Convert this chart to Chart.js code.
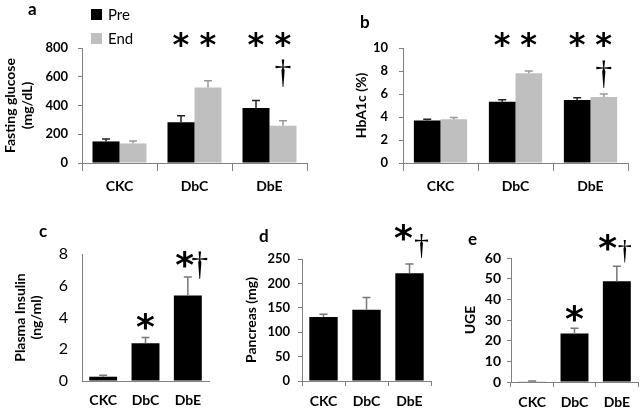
<!DOCTYPE html>
<html>
<head>
<meta charset="utf-8">
<script src="https://cdn.jsdelivr.net/npm/chart.js@4.4.0/dist/chart.umd.min.js"></script>
<style>
  html, body { margin: 0; padding: 0; background: #fff; }
  #fig { position: relative; width: 640px; height: 410px; overflow: hidden; }
  #fig canvas { position: absolute; }
</style>
</head>
<body>
<div id="fig">
  <canvas id="chartA" width="320" height="200" style="left:0px;top:0px"></canvas>
  <canvas id="chartB" width="320" height="200" style="left:320px;top:0px"></canvas>
  <canvas id="chartC" width="214" height="210" style="left:0px;top:200px"></canvas>
  <canvas id="chartD" width="222" height="210" style="left:214px;top:200px"></canvas>
  <canvas id="chartE" width="204" height="210" style="left:436px;top:200px"></canvas>
</div>
<script>
// groups and series
const groups = ['CKC', 'DbC', 'DbE'];
const seriesNames = ['Pre', 'End'];

// a: fasting glucose (mg/dL), mean and upper error
const glucosePre = [150, 283, 383];
const glucosePreErr = [17, 46, 52];
const glucoseEnd = [136, 526, 259];
const glucoseEndErr = [17, 46, 35];
const glucoseTicks = [0, 200, 400, 600, 800];

// b: HbA1c (%)
const hba1cPre = [3.7, 5.33, 5.48];
const hba1cPreErr = [0.1, 0.17, 0.2];
const hba1cEnd = [3.8, 7.8, 5.74];
const hba1cEndErr = [0.15, 0.2, 0.26];
const hba1cTicks = [0, 2, 4, 6, 8, 10];

// c: plasma insulin (ng/ml)
const insulin = [0.27, 2.38, 5.39];
const insulinErr = [0.1, 0.36, 1.16];
const insulinTicks = [0, 2, 4, 6, 8];

// d: pancreas weight (mg)
const pancreas = [131, 146, 221];
const pancreasErr = [6, 25, 19];
const pancreasTicks = [0, 50, 100, 150, 200, 250];

// e: UGE
const uge = [0.3, 23.5, 48.8];
const ugeErr = [0.2, 2.5, 7.2];
const ugeTicks = [0, 10, 20, 30, 40, 50, 60];

const FONT = 'Lato';
const axisGray = '#808080';
const barBlack = '#000000';
const barGray = '#bfbfbf';

function drawGlyph(ctx, text, font, cx, cy) {
    ctx.font = font;
    ctx.textAlign = 'left';
    ctx.textBaseline = 'alphabetic';
    const m = ctx.measureText(text);
    const x = cx - (m.actualBoundingBoxRight - m.actualBoundingBoxLeft) / 2;
    const y = cy + (m.actualBoundingBoxAscent - m.actualBoundingBoxDescent) / 2;
    ctx.fillText(text, x, y);
}

const extras = {
    id: 'extras',
    afterDatasetsDraw(chart) {
        const ctx = chart.ctx;
        const yScale = chart.scales.y;
        chart.data.datasets.forEach((ds, i) => {
            chart.getDatasetMeta(i).data.forEach((bar, j) => {
                const top = yScale.getPixelForValue(ds.data[j] + ds.err[j]);
                ctx.save();
                ctx.strokeStyle = ds.errColor;
                ctx.lineWidth = 1.5;
                ctx.beginPath();
                ctx.moveTo(bar.x, bar.y);
                ctx.lineTo(bar.x, top);
                ctx.moveTo(bar.x - 4, top);
                ctx.lineTo(bar.x + 4, top);
                ctx.stroke();
                ctx.restore();
            });
        });
    },
    afterDraw(chart, args, opts) {
        const ctx = chart.ctx;
        const yScale = chart.scales.y;
        ctx.save();
        ctx.fillStyle = '#000';
        (opts.marks || []).forEach(mk => {
            const bar = chart.getDatasetMeta(mk.ds).data[mk.cat];
            const font = mk.text === '*' ? opts.starFont : opts.daggerFont;
            drawGlyph(ctx, mk.text, font, bar.x + (mk.dx || 0), yScale.getPixelForValue(mk.value));
        });
        if (opts.label) {
            ctx.font = 'bold 17px ' + FONT;
            ctx.textAlign = 'left';
            ctx.textBaseline = 'alphabetic';
            ctx.fillText(opts.label.text, opts.label.x, opts.label.y);
        }
        if (opts.legend) {
            // two stacked legend rows above the plot
            chart.data.datasets.forEach((ds, i) => {
                const cy = opts.legend.y + i * opts.legend.gap;
                ctx.fillStyle = ds.backgroundColor;
                ctx.fillRect(opts.legend.x, cy - 5, 11, 11);
                ctx.fillStyle = '#000';
                ctx.font = '15px ' + FONT;
                ctx.textBaseline = 'middle';
                ctx.fillText(ds.label, opts.legend.x + 17, cy + 1);
            });
        }
        ctx.restore();
    }
};

function makePanel(id, p) {
    const ctx = document.getElementById(id).getContext('2d');
    return new Chart(ctx, {
        type: 'bar',
        data: { labels: groups, datasets: p.datasets },
        options: {
            responsive: false,
            animation: false,
            layout: { padding: { top: p.padTop, right: p.padRight, left: 0, bottom: 0 } },
            datasets: { bar: { categoryPercentage: p.catPct, barPercentage: 1 } },
            plugins: {
                legend: { display: false },
                tooltip: { enabled: false },
                extras: p.extras
            },
            scales: {
                x: {
                    grid: { drawOnChartArea: false, drawTicks: p.xTickLen > 0, tickLength: p.xTickLen, color: axisGray, offset: true },
                    border: { display: true, color: axisGray, width: 1 },
                    ticks: { color: '#000', font: { family: FONT, size: 14, weight: 'bold' }, padding: p.xPad, maxRotation: 0 },
                    afterFit: s => { s.height = p.xHeight; }
                },
                y: {
                    min: 0,
                    max: p.ticks[p.ticks.length - 1],
                    afterBuildTicks: s => { s.ticks = p.ticks.map(v => ({ value: v })); },
                    grid: { drawOnChartArea: false, drawTicks: p.yTickLen > 0, tickLength: p.yTickLen, color: axisGray },
                    border: { display: true, color: axisGray, width: 1 },
                    ticks: { color: '#000', font: p.yTickFont, padding: p.yPad },
                    title: {
                        display: true, text: p.title, color: '#000',
                        font: { family: FONT, size: 14, weight: 'bold', lineHeight: p.titleLH || 1.2 },
                        padding: { top: p.titlePad, bottom: 0 }
                    },
                    afterFit: s => { s.width = p.yWidth; }
                }
            }
        },
        plugins: [extras]
    });
}

const boldTick = { family: FONT, size: 13, weight: 'bold' };
const starBig = 'bold 32px "DejaVu Sans"';
const daggerBig = '34px "Liberation Serif"';

makePanel('chartA', {
    datasets: [
        { label: seriesNames[0], data: glucosePre, err: glucosePreErr, backgroundColor: barBlack, errColor: '#222' },
        { label: seriesNames[1], data: glucoseEnd, err: glucoseEndErr, backgroundColor: barGray, errColor: '#999' }
    ],
    ticks: glucoseTicks, padTop: 48, padRight: 13, yWidth: 82, xHeight: 37, catPct: 0.72,
    xTickLen: 8, xPad: 7, yTickLen: 4, yPad: 10, yTickFont: boldTick,
    title: ['Fasting glucose', '(mg/dL)'], titleLH: 1.25, titlePad: 1.25,
    extras: {
        starFont: starBig, daggerFont: daggerBig,
        label: { text: 'a', x: 28, y: 15 },
        legend: { x: 91, y: 14, gap: 24 },
        marks: [
            { text: '*', cat: 1, ds: 0, value: 856 },
            { text: '*', cat: 1, ds: 1, value: 856 },
            { text: '*', cat: 2, ds: 0, value: 856 },
            { text: '*', cat: 2, ds: 1, value: 856 },
            { text: '†', cat: 2, ds: 1, value: 628 }
        ]
    }
});

makePanel('chartB', {
    datasets: [
        { label: seriesNames[0], data: hba1cPre, err: hba1cPreErr, backgroundColor: barBlack, errColor: '#222' },
        { label: seriesNames[1], data: hba1cEnd, err: hba1cEndErr, backgroundColor: barGray, errColor: '#999' }
    ],
    ticks: hba1cTicks, padTop: 48, padRight: 12, yWidth: 83, xHeight: 37, catPct: 0.71,
    xTickLen: 8, xPad: 7, yTickLen: 4, yPad: 11, yTickFont: boldTick,
    title: 'HbA1c (%)', titlePad: 33.3,
    extras: {
        starFont: starBig, daggerFont: daggerBig,
        label: { text: 'b', x: 40, y: 28 },
        marks: [
            { text: '*', cat: 1, ds: 0, value: 10.7 },
            { text: '*', cat: 1, ds: 1, value: 10.7 },
            { text: '*', cat: 2, ds: 0, value: 10.7 },
            { text: '*', cat: 2, ds: 1, value: 10.7 },
            { text: '†', cat: 2, ds: 1, value: 7.77 }
        ]
    }
});

makePanel('chartC', {
    datasets: [
        { label: 'Insulin', data: insulin, err: insulinErr, backgroundColor: barBlack, errColor: '#777' }
    ],
    ticks: insulinTicks, padTop: 54, padRight: 5, yWidth: 82, xHeight: 29, catPct: 0.66,
    xTickLen: 0, xPad: 11, yTickLen: 0, yPad: 14, yTickFont: { family: FONT, size: 16 },
    title: ['Plasma Insulin', '(ng/ml)'], titleLH: 1.18, titlePad: 11.75,
    extras: {
        starFont: 'bold 36px "DejaVu Sans"', daggerFont: daggerBig,
        label: { text: 'c', x: 39, y: 37 },
        marks: [
            { text: '*', cat: 1, ds: 0, value: 3.73 },
            { text: '*', cat: 2, ds: 0, value: 7.64, dx: -3 },
            { text: '†', cat: 2, ds: 0, value: 7.3, dx: 12 }
        ]
    }
});

makePanel('chartD', {
    datasets: [
        { label: 'Pancreas', data: pancreas, err: pancreasErr, backgroundColor: barBlack, errColor: '#777' }
    ],
    ticks: pancreasTicks, padTop: 59, padRight: 5, yWidth: 88, xHeight: 29, catPct: 0.66,
    xTickLen: 5, xPad: 7, yTickLen: 4, yPad: 8, yTickFont: boldTick,
    title: 'Pancreas (mg)', titlePad: 29.3,
    extras: {
        starFont: 'bold 36px "DejaVu Sans"', daggerFont: '30px "Liberation Serif"',
        label: { text: 'd', x: 45, y: 42 },
        marks: [
            { text: '*', cat: 2, ds: 0, value: 304, dx: -6 },
            { text: '†', cat: 2, ds: 0, value: 276, dx: 12 }
        ]
    }
});

makePanel('chartE', {
    datasets: [
        { label: 'UGE', data: uge, err: ugeErr, backgroundColor: barBlack, errColor: '#777' }
    ],
    ticks: ugeTicks, padTop: 58, padRight: 2, yWidth: 75, xHeight: 28, catPct: 0.66,
    xTickLen: 5, xPad: 7, yTickLen: 4, yPad: 6, yTickFont: { family: FONT, size: 14, weight: 'bold' },
    title: 'UGE', titlePad: 25.6,
    extras: {
        starFont: 'bold 36px "DejaVu Sans"', daggerFont: '28px "Liberation Serif"',
        label: { text: 'e', x: 32, y: 45 },
        marks: [
            { text: '*', cat: 1, ds: 0, value: 33.3 },
            { text: '*', cat: 2, ds: 0, value: 67.5, dx: -9 },
            { text: '†', cat: 2, ds: 0, value: 63.2, dx: 8 }
        ]
    }
});
</script>
</body>
</html>
